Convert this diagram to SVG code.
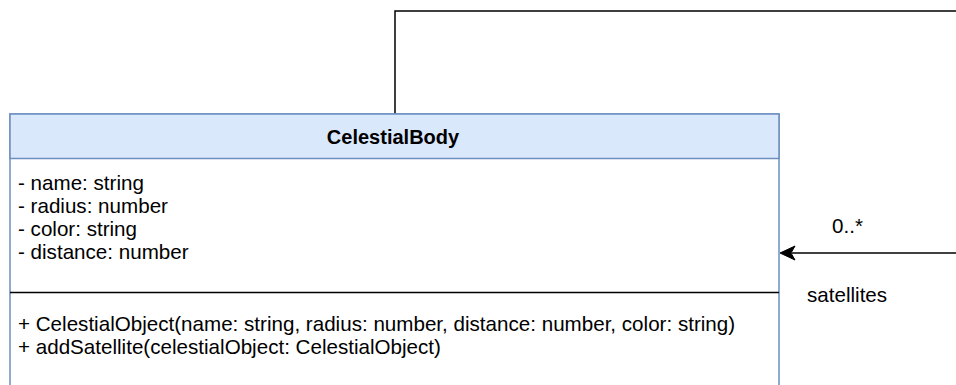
<svg xmlns="http://www.w3.org/2000/svg" width="956" height="385" viewBox="0 0 956 385">
<style>
.t{font-family:"Liberation Sans",Arial,sans-serif;font-size:20.6px;fill:#000}
.b{font-weight:bold;font-size:20px}
.edge{fill:none;stroke:#000;stroke-width:1.5}
</style>
<rect width="956" height="385" fill="#fff"/>
<g id="connectors">
<path class="edge" d="M395,114 V11 H960"/>
<path class="edge" d="M960,253 H792"/>
<path d="M780,253 L795,246 L791,253 L795,260 Z" fill="#000" stroke="#000" stroke-width="1"/>
<text class="t" x="832" y="233">0..*</text>
<text class="t" x="807" y="302">satellites</text>
</g>
<g id="CelestialBody">
<rect x="10" y="114" width="769" height="300" fill="#fff" stroke="#6c8ebf" stroke-width="1.5"/>
<rect x="10" y="114" width="769" height="44.5" fill="#dae8fc" stroke="#6c8ebf" stroke-width="1.5"/>
<text class="t b" x="393" y="144" text-anchor="middle">CelestialBody</text>
<text class="t" x="18" y="190">- name: string</text>
<text class="t" x="18" y="213">- radius: number</text>
<text class="t" x="18" y="236">- color: string</text>
<text class="t" x="18" y="259">- distance: number</text>
<line x1="10" y1="292.5" x2="779" y2="292.5" stroke="#000" stroke-width="1.5"/>
<text class="t" x="18" y="331">+ CelestialObject(name: string, radius: number, distance: number, color: string)</text>
<text class="t" x="18" y="354">+ addSatellite(celestialObject: CelestialObject)</text>
</g>
</svg>
